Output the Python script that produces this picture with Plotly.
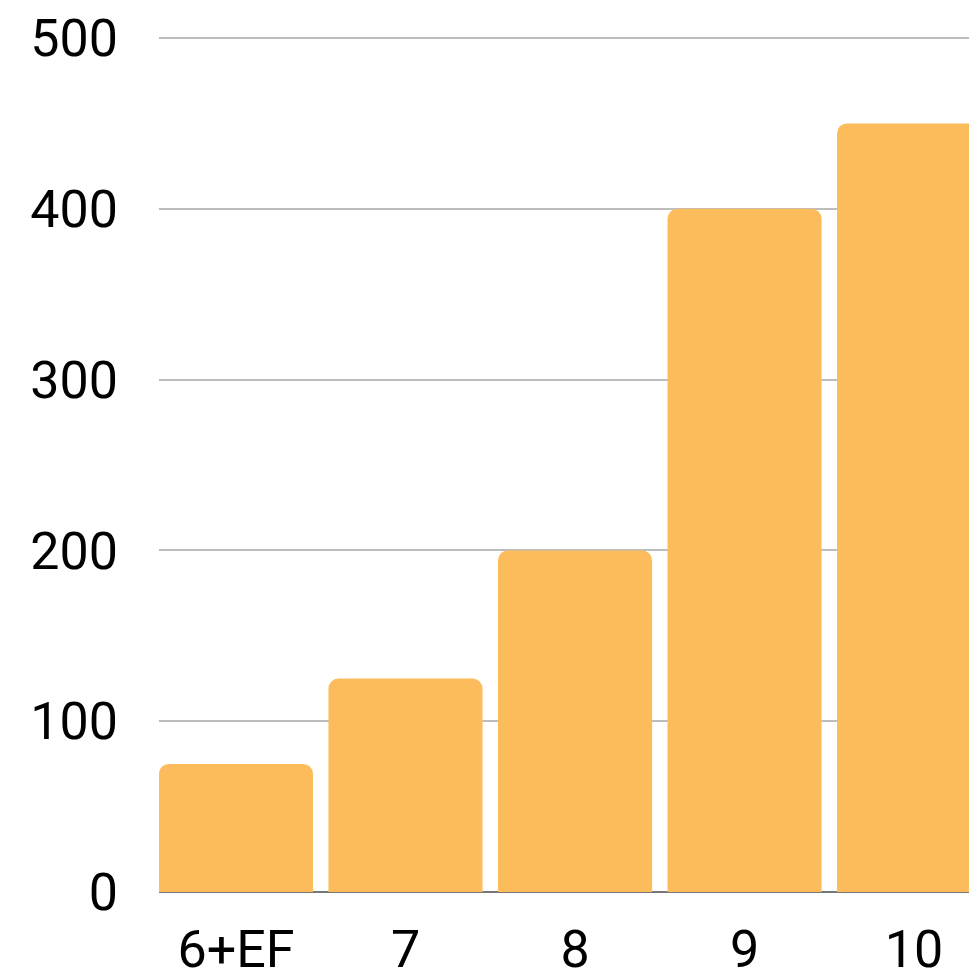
import plotly.graph_objects as go

categories = ["6+EF", "7", "8", "9", "10"]
values = [75, 125, 200, 400, 450]
y_ticks = [0, 100, 200, 300, 400, 500]

fig = go.Figure(go.Bar(
    x=categories, y=values,
    marker=dict(color="#FCBC5B", line=dict(width=0)),
))

fig.update_layout(
    width=969, height=974,
    margin=dict(l=159, r=0, t=36, b=82),
    paper_bgcolor="white", plot_bgcolor="white",
    bargap=0.091,
    barcornerradius=10,
    showlegend=False,
    font=dict(family="Roboto", size=52, color="#000000"),
)
fig.update_xaxes(
    type="category",
    range=[-0.454, 4.324],
    automargin=False,
    showgrid=False, showline=False, zeroline=False,
    ticks="", ticklabelstandoff=22,
    tickfont=dict(size=52),
)
fig.update_yaxes(
    range=[0, 501.2],
    tickvals=y_ticks,
    automargin=False,
    showgrid=True, gridcolor="#BDBDBD", gridwidth=1.6,
    zeroline=True, zerolinecolor="#777777", zerolinewidth=2,
    showline=False, ticks="", ticklabelstandoff=40,
    tickfont=dict(size=52),
)

fig.write_html(
    "out.html",
    config={"displayModeBar": False},
    post_script="document.body.style.margin='0';document.body.style.overflow='hidden';",
)
